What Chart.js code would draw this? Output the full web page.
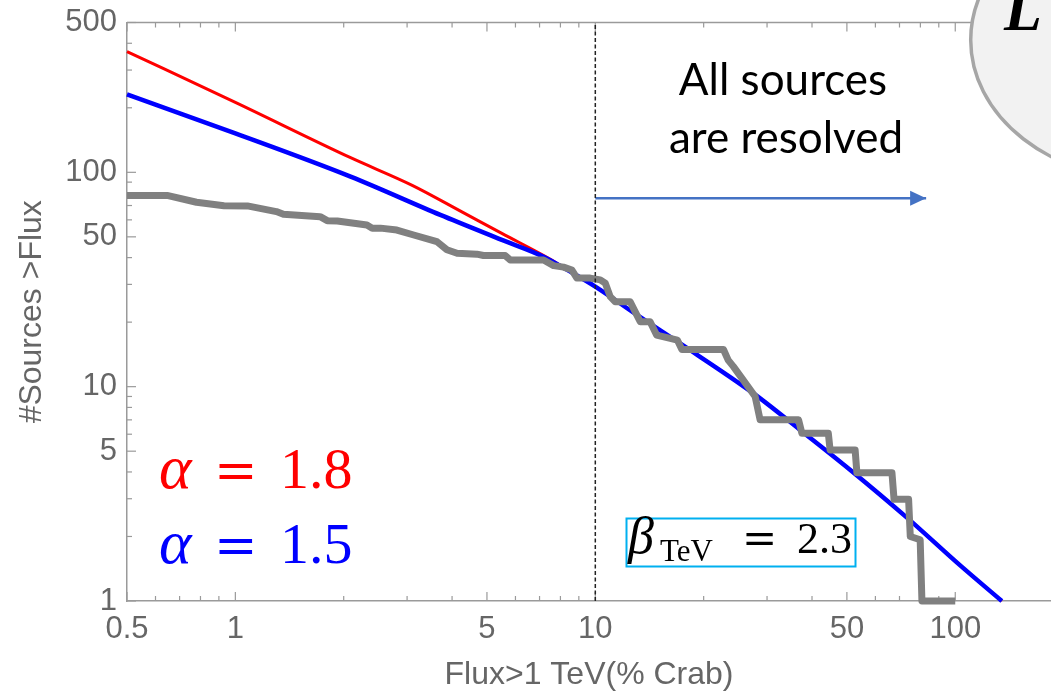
<!DOCTYPE html>
<html><head><meta charset="utf-8">
<script src="https://cdn.jsdelivr.net/npm/chart.js@4/dist/chart.umd.min.js"></script>
<style>html,body{margin:0;padding:0;background:#fff;overflow:hidden}#wrap{width:1051px;height:692px;position:relative}</style>
</head><body><div id="wrap"><canvas id="c" width="1051" height="692"></canvas></div>
<script>
// ---- tick labels ----
const xTickLabels = [0.5, 1, 5, 10, 50, 100];
const yTickLabels = [1, 5, 10, 50, 100, 500];
const xMinorTicks = [0.6, 0.7, 0.8, 0.9, 2, 3, 4, 6, 7, 8, 9, 20, 30, 40, 60, 70, 80, 90, 200];
const yMinorTicks = [2, 3, 4, 6, 7, 8, 9, 20, 30, 40, 60, 70, 80, 90, 200, 300, 400];

// ---- model alpha = 1.8 (red) ----
const redFlux  = [0.5, 1, 2.09, 3.1, 4.31, 5.5, 7.5, 8.52, 10, 13.05, 17.2, 27.5, 37, 51, 73.4, 103, 134.7];
const redCount = [366, 212, 117, 87, 64.7, 51.9, 39.3, 34.4, 29.3, 21.6, 15.9, 9.3, 6.3, 4.1, 2.45, 1.47, 1];

// ---- model alpha = 1.5 (blue) ----
const blueFlux  = [0.5, 1, 2.09, 3.71, 5.5, 7.18, 8.52, 10, 13.05, 17.2, 27.5, 37, 51, 73.4, 103, 134.7];
const blueCount = [231, 152, 95.5, 63.3, 48.4, 40.4, 34.4, 29.3, 21.6, 15.9, 9.3, 6.3, 4.1, 2.45, 1.47, 1];

// ---- observed cumulative counts (gray) ----
const obsFlux = [0.5, 0.646, 0.78, 0.93, 1.08, 1.30, 1.36, 1.72, 1.80, 1.92, 2.32, 2.40, 2.53, 2.81, 3.13, 3.63, 3.87, 4.13, 4.69, 4.89, 5.62, 5.80, 7.18, 7.66, 8.16, 8.61, 8.89, 9.68, 10.32, 10.66, 11.0, 11.36, 12.5, 12.9, 13.33, 14.2, 14.8, 16.15, 16.9, 17.4, 22.7, 23.4, 24.2, 27.8, 28.7, 36.7, 37.5, 44.4, 44.9, 52.7, 53.3, 66.7, 67.6, 74.2, 75.0, 79.9, 80.8, 100];
const obsCount = [78, 78, 72.5, 69.9, 69.7, 65.6, 63.7, 62.1, 59.5, 59.3, 56.8, 54.9, 54.9, 53.8, 51.0, 47.5, 43.5, 41.9, 41.5, 40.9, 40.9, 39.0, 39.0, 36.7, 36.1, 35.0, 32.1, 32.1, 31.5, 30.4, 26.3, 24.9, 24.9, 22.4, 20.1, 20.1, 17.4, 16.8, 16.5, 14.9, 14.9, 13.3, 12.4, 9.0, 7.0, 7.0, 6.06, 6.06, 5.07, 5.07, 3.97, 3.97, 2.98, 2.98, 2.0, 1.93, 1, 1];

// ---- resolved limit & arrow ----
const limitFlux = [10, 10];
const limitCount = [1, 500];
const arrowFlux = [10, 83];
const arrowCount = [75.7, 75.7];

const pts = (xs, ys) => xs.map((v, i) => ({x: v, y: ys[i]}));

const frame = {
  id: 'frame',
  beforeDatasetsDraw(chart) {
    const {ctx, chartArea: a, scales: {x, y}} = chart;
    ctx.save();
    ctx.strokeStyle = '#9a9a9a';
    ctx.lineWidth = 1.5;
    ctx.beginPath(); ctx.moveTo(a.left, a.top); ctx.lineTo(a.right + 5, a.top); ctx.stroke();
    ctx.lineWidth = 1.2;
    const xt = (vals, len) => vals.forEach(v => {
      const p = x.getPixelForValue(v);
      if (p < a.left - 1 || p > a.right + 1) return;
      ctx.beginPath(); ctx.moveTo(p, a.bottom); ctx.lineTo(p, a.bottom - len);
      ctx.moveTo(p, a.top); ctx.lineTo(p, a.top + len); ctx.stroke();
    });
    const yt = (vals, len) => vals.forEach(v => {
      const p = y.getPixelForValue(v);
      ctx.beginPath(); ctx.moveTo(a.left, p); ctx.lineTo(a.left + len, p); ctx.stroke();
    });
    xt(xTickLabels, 9); xt(xMinorTicks, 5);
    yt(yTickLabels, 9); yt(yMinorTicks, 5);
    ctx.restore();
  }
};

const annotations = {
  id: 'annotations',
  afterDraw(chart) {
    const {ctx} = chart;
    ctx.save();
    // arrow head at the end of the arrow dataset
    const meta = chart.getDatasetMeta(1);
    const tip = meta.data[meta.data.length - 1];
    ctx.fillStyle = '#4472c4';
    ctx.beginPath();
    ctx.moveTo(tip.x, tip.y);
    ctx.lineTo(tip.x - 16, tip.y - 7.5);
    ctx.lineTo(tip.x - 16, tip.y + 7.5);
    ctx.closePath(); ctx.fill();

    // "All sources are resolved"
    ctx.fillStyle = '#000';
    ctx.font = '44px Lato';
    ctx.textAlign = 'center';
    ctx.textBaseline = 'alphabetic';
    ctx.fillText('All sources', 783, 95);
    ctx.fillText('are resolved', 786, 153);

    // alpha labels
    ctx.textAlign = 'left';
    const alphaLabel = (color, val, base) => {
      ctx.fillStyle = color;
      ctx.font = 'italic 62px "Liberation Serif"';
      ctx.fillText('α', 159, base);
      ctx.font = '52px "DejaVu Serif"';
      ctx.fillText('=', 214, base);
      ctx.font = '58px "Liberation Serif"';
      ctx.fillText(val, 280, base);
    };
    alphaLabel('#ff0000', '1.8', 488);
    alphaLabel('#0000ff', '1.5', 563);

    // beta box
    ctx.strokeStyle = '#00b0f0';
    ctx.lineWidth = 2;
    ctx.strokeRect(626.5, 518.5, 229, 48);
    ctx.fillStyle = '#000';
    ctx.font = 'italic 52px "Liberation Serif"';
    ctx.fillText('β', 628, 553);
    ctx.font = '31px "Liberation Serif"';
    ctx.fillText('TeV', 660, 561);
    ctx.font = '42px "DejaVu Serif"';
    ctx.fillText('=', 742, 553);
    ctx.font = '44px "Liberation Serif"';
    ctx.fillText('2.3', 797, 553);

    // ellipse callout
    ctx.beginPath();
    ctx.ellipse(1150.7, 40, 180, 140, 0, 0, Math.PI * 2);
    ctx.fillStyle = '#f2f2f2'; ctx.fill();
    ctx.strokeStyle = '#a6a6a6'; ctx.lineWidth = 3.5; ctx.stroke();
    ctx.fillStyle = '#000';
    ctx.font = 'italic bold 62px "Liberation Serif"';
    ctx.fillText('L', 1004, 30);
    ctx.restore();
  }
};

new Chart(document.getElementById('c'), {
  type: 'scatter',
  data: {
    datasets: [
      {data: pts(limitFlux, limitCount), showLine: true, borderColor: '#222', borderWidth: 1.5, borderDash: [4, 2.5], pointRadius: 0, clip: false},
      {data: pts(arrowFlux, arrowCount), showLine: true, borderColor: '#4472c4', borderWidth: 2.5, pointRadius: 0, clip: false},
      {data: pts(obsFlux, obsCount), showLine: true, borderColor: '#808080', borderWidth: 7, borderJoinStyle: 'round', pointRadius: 0, clip: 8},
      {data: pts(blueFlux, blueCount), showLine: true, borderColor: '#0000ff', borderWidth: 4.5, cubicInterpolationMode: 'monotone', pointRadius: 0, clip: 8},
      {data: pts(redFlux, redCount), showLine: true, borderColor: '#ff0000', borderWidth: 3, cubicInterpolationMode: 'monotone', pointRadius: 0, clip: 8}
    ]
  },
  options: {
    responsive: false,
    animation: false,
    devicePixelRatio: 1,
    events: [],
    layout: {padding: {top: 22.5, right: 0, left: 0, bottom: 0}},
    plugins: {legend: {display: false}, tooltip: {enabled: false}},
    scales: {
      x: {
        type: 'logarithmic', min: 0.5, max: 184.5, bounds: 'data',
        afterBuildTicks: s => { s.ticks = xTickLabels.map(v => ({value: v})); },
        afterFit: s => { s.height = 91; s.paddingLeft = 0; s.paddingRight = 0; },
        grid: {display: false, drawTicks: false},
        border: {display: true, color: '#9a9a9a', width: 1.5},
        ticks: {autoSkip: false, maxRotation: 0, minRotation: 0, padding: 10, color: '#666',
                font: {family: '"Liberation Sans", Arial', size: 31}, callback: v => String(v)},
        title: {display: true, text: 'Flux>1 TeV(% Crab)', color: '#666',
                font: {family: '"Liberation Sans", Arial', size: 32}, padding: {top: 0, bottom: -2}}
      },
      y: {
        type: 'logarithmic', min: 1, max: 500, bounds: 'data',
        afterBuildTicks: s => { s.ticks = yTickLabels.map(v => ({value: v})); },
        afterFit: s => { s.width = 127; s.paddingTop = 0; s.paddingBottom = 0; },
        grid: {display: false, drawTicks: false},
        border: {display: true, color: '#9a9a9a', width: 1.5},
        ticks: {autoSkip: false, padding: 10, color: '#666',
                font: {family: '"Liberation Sans", Arial', size: 31}, callback: v => String(v)},
        title: {display: true, text: '#Sources >Flux', color: '#666',
                font: {family: '"Liberation Sans", Arial', size: 32}, padding: {top: 13, bottom: 0}}
      }
    }
  },
  plugins: [frame, annotations]
});
</script>
</body></html>
